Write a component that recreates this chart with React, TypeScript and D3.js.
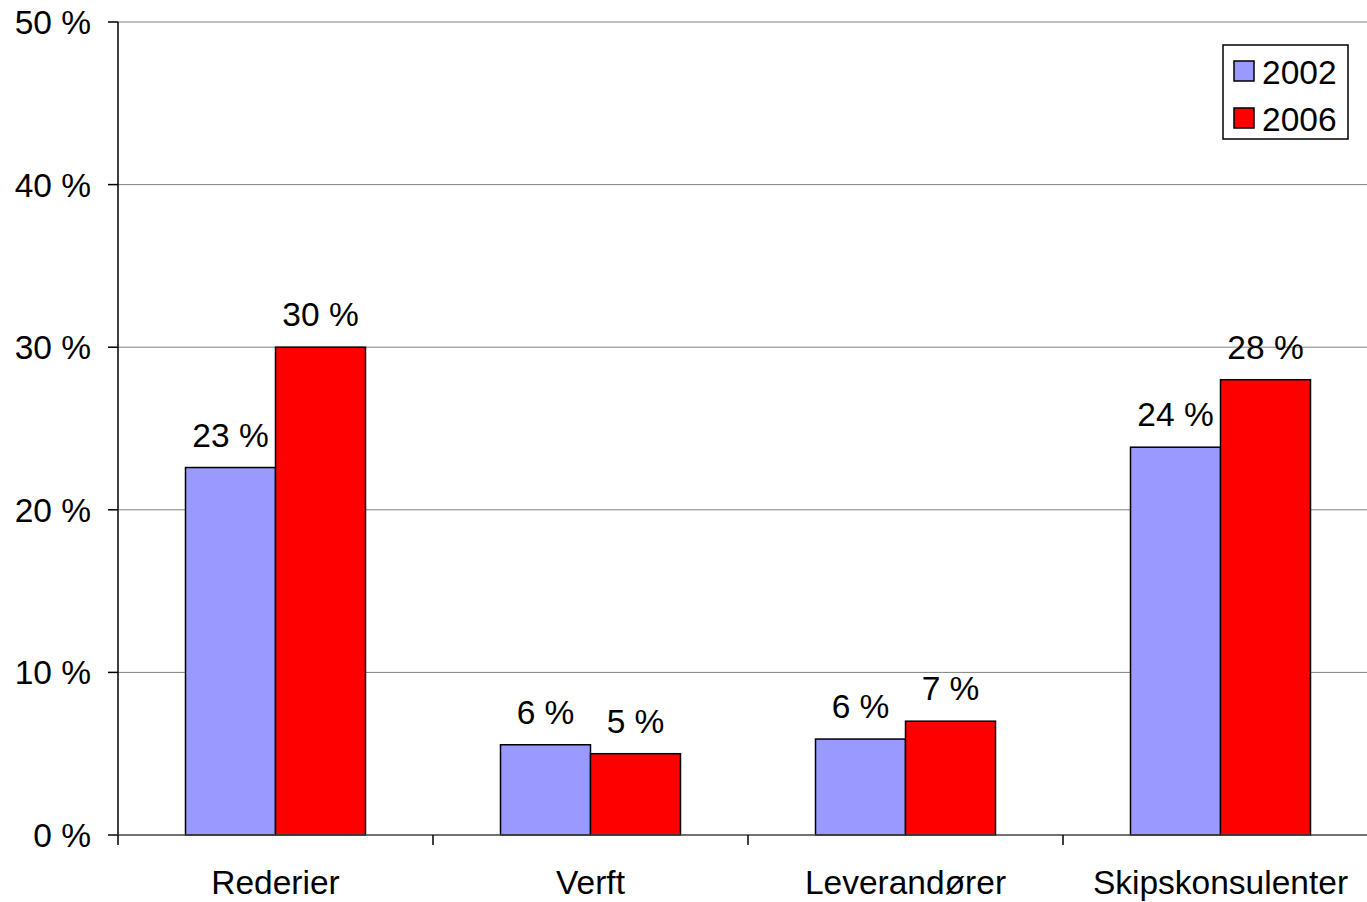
import { useEffect, useRef } from 'react'
import * as d3 from 'd3'

const categories = ['Rederier', 'Verft', 'Leverandører', 'Skipskonsulenter']
const seriesNames = ['2002', '2006']
const values2002 = [22.6, 5.55, 5.9, 23.85]
const values2006 = [30.0, 5.0, 7.0, 28.0]
const yTicks = [0, 10, 20, 30, 40, 50]
const colors = ['#9999FF', '#FF0000']

export default function App() {
  const svgRef = useRef<SVGSVGElement>(null)

  useEffect(() => {
    document.body.style.margin = '0'
    if (!svgRef.current) return

    const width = 1367
    const height = 902
    const margin = { top: 22, left: 118, bottom: 67 }
    const innerW = 1260
    const innerH = height - margin.top - margin.bottom

    const svg = d3.select(svgRef.current)
    svg.selectAll('*').remove()
    svg.attr('width', width).attr('height', height)
    svg.append('rect').attr('width', width).attr('height', height).attr('fill', '#fff')

    const font = 'Liberation Sans, Arial, sans-serif'
    const fs = 33.5
    const g = svg.append('g').attr('transform', `translate(${margin.left},${margin.top})`)

    const x = d3.scaleBand<string>().domain(categories).range([0, innerW])
    const y = d3.scaleLinear().domain([0, 50]).range([innerH, 0])
    const barW = 90

    // Grid
    g.append('g')
      .selectAll('line')
      .data(yTicks.filter(t => t > 0))
      .enter().append('line')
      .attr('x1', 0).attr('x2', innerW)
      .attr('y1', d => y(d)).attr('y2', d => y(d))
      .attr('stroke', '#808080').attr('stroke-width', 1)

    // Bars
    const data = categories.map((c, i) => ({ cat: c, vals: [values2002[i], values2006[i]] }))
    data.forEach(d => {
      d.vals.forEach((v, s) => {
        const bx = x(d.cat)! + x.bandwidth() / 2 - barW + s * barW
        g.append('rect')
          .attr('x', bx).attr('y', y(v))
          .attr('width', barW).attr('height', innerH - y(v))
          .attr('fill', colors[s]).attr('stroke', '#000').attr('stroke-width', 1.5)
        g.append('text')
          .attr('x', bx + barW / 2).attr('y', y(v) - 21)
          .attr('text-anchor', 'middle')
          .attr('font-family', font).attr('font-size', fs)
          .attr('fill', '#000')
          .text(`${Math.round(v)} %`)
      })
    })

    // Y axis
    g.append('line').attr('x1', 0).attr('x2', 0).attr('y1', 0).attr('y2', innerH)
      .attr('stroke', '#000').attr('stroke-width', 1.5)
    yTicks.forEach(t => {
      g.append('line').attr('x1', -10).attr('x2', 0).attr('y1', y(t)).attr('y2', y(t))
        .attr('stroke', '#000').attr('stroke-width', 1.5)
      g.append('text')
        .attr('x', -27).attr('y', y(t) + 12)
        .attr('text-anchor', 'end')
        .attr('font-family', font).attr('font-size', fs)
        .text(`${t} %`)
    })

    // X axis
    g.append('line').attr('x1', -10).attr('x2', innerW).attr('y1', innerH).attr('y2', innerH)
      .attr('stroke', '#444').attr('stroke-width', 1.5)
    categories.forEach((c, i) => {
      const tx = x.step() * i
      g.append('line').attr('x1', tx).attr('x2', tx).attr('y1', innerH).attr('y2', innerH + 10)
        .attr('stroke', '#000').attr('stroke-width', 1.5)
      g.append('text')
        .attr('x', x(c)! + x.bandwidth() / 2).attr('y', innerH + 59)
        .attr('text-anchor', 'middle')
        .attr('font-family', font).attr('font-size', fs)
        .text(c)
    })
    g.append('line').attr('x1', innerW).attr('x2', innerW).attr('y1', innerH).attr('y2', innerH + 10)
      .attr('stroke', '#000').attr('stroke-width', 1.5)

    // Legend
    const legend = svg.append('g').attr('transform', 'translate(1223,45)')
    legend.append('rect').attr('width', 125).attr('height', 94)
      .attr('fill', '#fff').attr('stroke', '#000').attr('stroke-width', 1.5)
    seriesNames.forEach((name, i) => {
      const row = legend.append('g').attr('transform', `translate(11,${16 + i * 47})`)
      row.append('rect').attr('width', 20).attr('height', 20)
        .attr('fill', colors[i]).attr('stroke', '#000').attr('stroke-width', 1.5)
      row.append('text').attr('x', 28).attr('y', 23)
        .attr('font-family', font).attr('font-size', fs)
        .text(name)
    })
  }, [])

  return <svg ref={svgRef} style={{ display: 'block' }} />
}
